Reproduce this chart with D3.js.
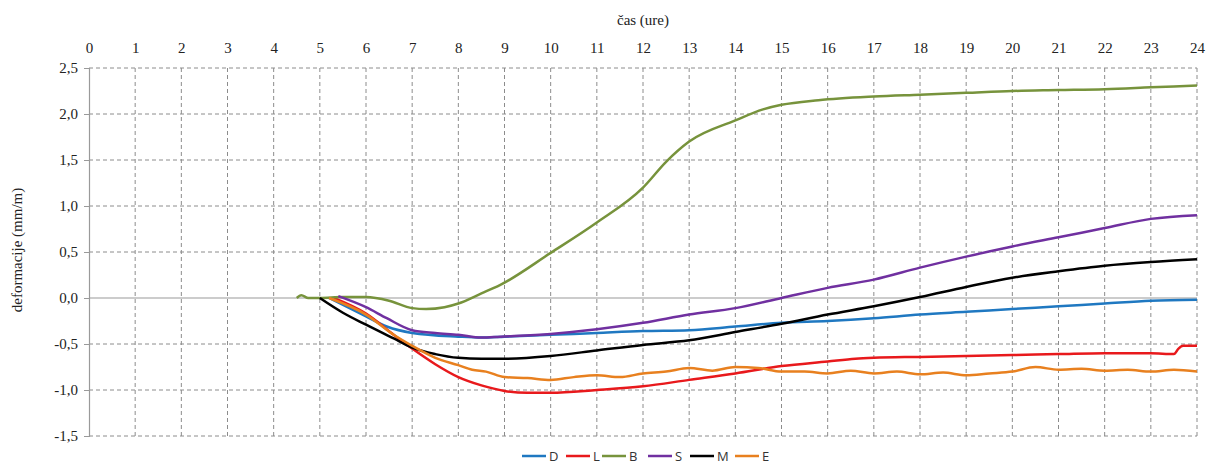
<!DOCTYPE html>
<html>
<head>
<meta charset="utf-8">
<style>
  body { margin: 0; background: #fff; }
  .serif { font-family: "Liberation Serif", "DejaVu Serif", "Times New Roman", serif; }
  .sans { font-family: "Open Sans", "Liberation Sans", sans-serif; }
</style>
</head>
<body>
<script src="https://d3js.org/d3.v7.min.js"></script>
<script>
// ure (x) in deformacije (y) odčitane iz grafa
const hoursD = [5.2, 6, 6.45, 7, 8, 8.5, 9, 10, 11, 12, 13, 14, 15, 16, 17, 18, 19, 20, 21, 22, 23, 24];
const valD   = [0, -0.2, -0.31, -0.38, -0.42, -0.43, -0.42, -0.4, -0.38, -0.36, -0.35, -0.31, -0.27, -0.25, -0.22, -0.18, -0.15, -0.12, -0.09, -0.06, -0.03, -0.02];

const hoursL = [5.3, 6, 6.6, 7, 7.5, 8, 8.5, 9, 9.5, 10, 11, 12, 13, 14, 15, 16, 16.6, 17, 18, 19, 20, 21, 22, 23, 23.5, 23.6, 23.7, 24];
const valL   = [0, -0.17, -0.4, -0.55, -0.72, -0.86, -0.95, -1.01, -1.03, -1.03, -1.0, -0.96, -0.89, -0.82, -0.74, -0.69, -0.66, -0.65, -0.64, -0.63, -0.62, -0.61, -0.6, -0.6, -0.61, -0.55, -0.52, -0.52];

const hoursB = [4.5, 4.6, 4.75, 5, 5.5, 6, 6.5, 7, 7.3, 7.7, 8, 8.5, 8.9, 10, 11, 12, 12.5, 13, 14, 14.6, 15, 15.8, 17, 18, 19, 20, 21, 22, 23, 24];
const valB   = [0, 0.03, 0, 0, 0.01, 0.01, -0.03, -0.11, -0.12, -0.1, -0.06, 0.05, 0.14, 0.49, 0.82, 1.2, 1.48, 1.7, 1.93, 2.05, 2.1, 2.15, 2.19, 2.21, 2.23, 2.25, 2.26, 2.27, 2.29, 2.31];

const hoursS = [5.4, 6, 6.45, 7, 7.5, 8, 8.5, 8.9, 10, 11, 12, 13, 14, 15, 16, 17, 18, 19, 20, 21, 22, 23, 24];
const valS   = [0.02, -0.1, -0.22, -0.35, -0.38, -0.4, -0.43, -0.42, -0.39, -0.34, -0.27, -0.18, -0.11, 0, 0.11, 0.2, 0.33, 0.45, 0.56, 0.66, 0.76, 0.86, 0.9];

const hoursM = [5, 5.5, 6, 6.6, 7, 7.5, 8, 8.5, 9, 10, 11, 12, 13, 14, 15, 16, 17, 18, 19, 20, 21, 22, 23, 24];
const valM   = [0, -0.16, -0.29, -0.44, -0.54, -0.61, -0.65, -0.66, -0.66, -0.63, -0.57, -0.51, -0.46, -0.37, -0.28, -0.18, -0.09, 0.01, 0.12, 0.22, 0.29, 0.35, 0.39, 0.42];

const hoursE = [5.2, 6, 6.6, 7, 7.5, 8, 8.3, 8.6, 9, 9.5, 10, 10.5, 11, 11.5, 12, 12.5, 13, 13.5, 14, 14.5, 15, 15.5, 16, 16.5, 17, 17.5, 18, 18.5, 19, 19.5, 20, 20.5, 21, 21.5, 22, 22.5, 23, 23.5, 24];
const valE   = [0, -0.18, -0.4, -0.52, -0.65, -0.73, -0.78, -0.8, -0.86, -0.87, -0.89, -0.86, -0.84, -0.86, -0.82, -0.8, -0.76, -0.79, -0.75, -0.76, -0.8, -0.8, -0.82, -0.79, -0.82, -0.8, -0.83, -0.81, -0.84, -0.82, -0.8, -0.75, -0.78, -0.77, -0.79, -0.78, -0.8, -0.78, -0.8];

const seriesNames = ['D', 'L', 'B', 'S', 'M', 'E'];
const seriesColors = ['#1f78c1', '#e8191c', '#77933c', '#7030a0', '#000000', '#e8801f'];

const xTicks = d3.range(0, 25, 1);
const yTicks = [-1.5, -1.0, -0.5, 0.0, 0.5, 1.0, 1.5, 2.0, 2.5];

const WIDTH = 1208;
const HEIGHT = 467;
const LEFT = 89, RIGHT = 1197, TOP = 68, BOTTOM = 436;

const svg = d3.select('body').append('svg')
  .attr('width', WIDTH)
  .attr('height', HEIGHT);

const xScale = d3.scaleLinear().domain([0, 24]).range([LEFT, RIGHT]);
const yScale = d3.scaleLinear().domain([-1.5, 2.5]).range([BOTTOM, TOP]);

const fmt = d => d3.format('.1f')(d).replace('.', ',').replace('−', '-');

// mreža
svg.append('g')
  .selectAll('line')
  .data(yTicks.filter(d => d !== 0))
  .join('line')
  .attr('x1', LEFT).attr('x2', RIGHT)
  .attr('y1', d => yScale(d)).attr('y2', d => yScale(d))
  .attr('stroke', '#8c8c8c')
  .attr('stroke-dasharray', '4,3');

svg.append('g')
  .selectAll('line')
  .data(xTicks.filter(d => d !== 0))
  .join('line')
  .attr('x1', d => xScale(d)).attr('x2', d => xScale(d))
  .attr('y1', TOP).attr('y2', BOTTOM)
  .attr('stroke', '#8c8c8c')
  .attr('stroke-dasharray', '4,3');

// ničelna črta
svg.append('line')
  .attr('x1', LEFT).attr('x2', RIGHT)
  .attr('y1', yScale(0)).attr('y2', yScale(0))
  .attr('stroke', '#9a9a9a')
  .attr('stroke-width', 1.2);

// os y
const axisY = d3.axisLeft(yScale)
  .tickValues(yTicks)
  .tickFormat(fmt)
  .tickSize(5)
  .tickPadding(6);

const gy = svg.append('g')
  .attr('transform', `translate(${LEFT},0)`)
  .call(axisY)
  .attr('font-family', null);
gy.select('.domain').attr('stroke', '#9a9a9a').attr('stroke-width', 1.2);
gy.selectAll('.tick line').attr('stroke', '#9a9a9a');
gy.selectAll('.tick text')
  .attr('class', 'serif')
  .attr('font-size', 15)
  .attr('fill', '#222');

// os x zgoraj
const axisX = d3.axisTop(xScale)
  .tickValues(xTicks)
  .tickFormat(d => d)
  .tickSize(0)
  .tickPadding(15);

const gx = svg.append('g')
  .attr('transform', `translate(0,${TOP})`)
  .call(axisX)
  .attr('font-family', null);
gx.select('.domain').remove();
gx.selectAll('.tick text')
  .attr('class', 'serif')
  .attr('font-size', 15)
  .attr('fill', '#222');

// naslovi osi
svg.append('text')
  .attr('class', 'serif')
  .attr('x', xScale(12))
  .attr('y', 25)
  .attr('text-anchor', 'middle')
  .attr('font-size', 15)
  .attr('fill', '#222')
  .text('čas (ure)');

svg.append('text')
  .attr('class', 'serif')
  .attr('transform', `translate(22,${(TOP + BOTTOM) / 2 - 2}) rotate(-90)`)
  .attr('text-anchor', 'middle')
  .attr('font-size', 15)
  .attr('fill', '#222')
  .text('deformacije (mm/m)');

// krivulje
const allHours = [hoursD, hoursL, hoursB, hoursS, hoursM, hoursE];
const allVals = [valD, valL, valB, valS, valM, valE];

const line = d3.line()
  .x(d => xScale(d[0]))
  .y(d => yScale(d[1]))
  .curve(d3.curveMonotoneX);

seriesNames.forEach((name, i) => {
  const pts = allHours[i].map((h, j) => [h, allVals[i][j]]);
  svg.append('path')
    .datum(pts)
    .attr('fill', 'none')
    .attr('stroke', seriesColors[i])
    .attr('stroke-width', 2.5)
    .attr('stroke-linejoin', 'round')
    .attr('d', line);
});

// legenda
const legendX = [522, 566, 602, 648, 690, 735];
const legend = svg.append('g');
seriesNames.forEach((name, i) => {
  const g = legend.append('g').attr('transform', `translate(${legendX[i]},456)`);
  g.append('line')
    .attr('x1', 0).attr('x2', 24)
    .attr('stroke', seriesColors[i])
    .attr('stroke-width', 2.5);
  g.append('text')
    .attr('class', 'sans')
    .attr('x', 27)
    .attr('y', 0)
    .attr('dy', '0.35em')
    .attr('font-size', 13)
    .attr('fill', '#333')
    .text(name);
});
</script>
</body>
</html>
